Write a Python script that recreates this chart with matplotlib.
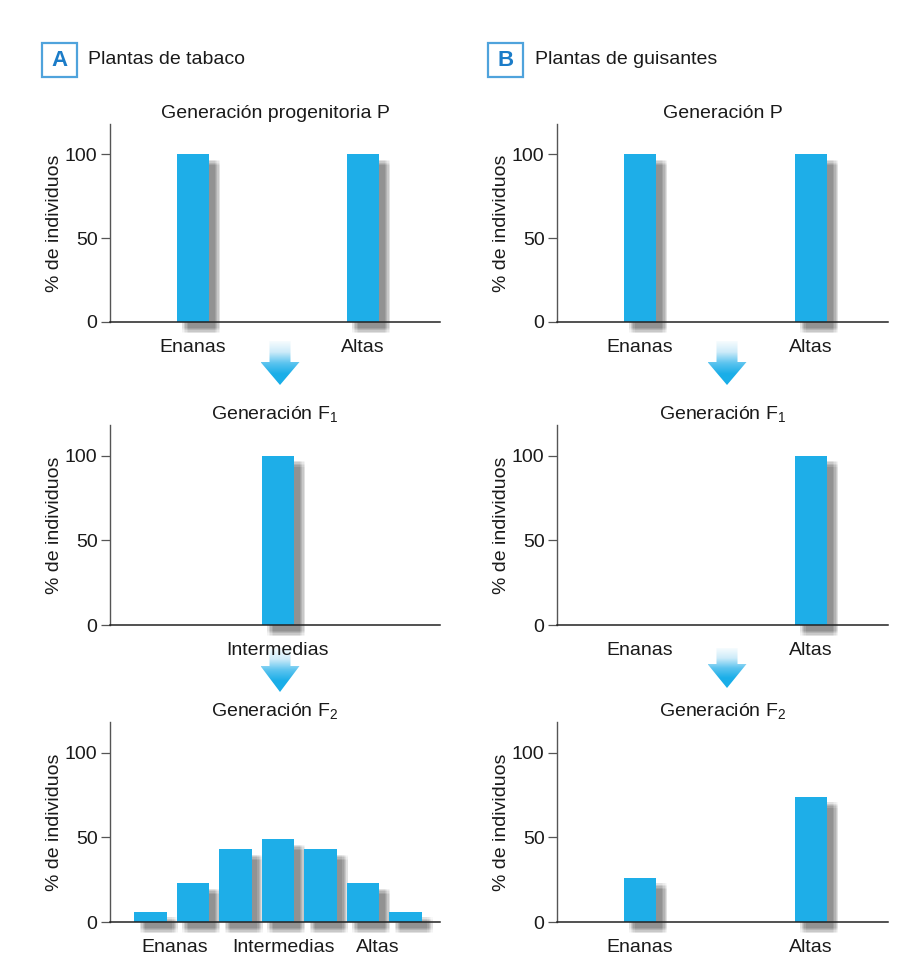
import numpy as np
import matplotlib
matplotlib.use("Agg")
import matplotlib.pyplot as plt
import matplotlib.patheffects as pe
from matplotlib.patches import Rectangle, Polygon
from matplotlib.colors import LinearSegmentedColormap

plt.rcParams['font.family'] = ['Liberation Sans', 'DejaVu Sans']
plt.rcParams['mathtext.fontset'] = 'custom'
plt.rcParams['mathtext.rm'] = 'Liberation Sans'
plt.rcParams['mathtext.it'] = 'Liberation Sans'

# ---------------- data ----------------
panel_letters = ["A", "B"]
panel_titles = ["Plantas de tabaco", "Plantas de guisantes"]
gen_titles_A = ["Generación progenitoria P", "Generación F$_{1}$", "Generación F$_{2}$"]
gen_titles_B = ["Generación P", "Generación F$_{1}$", "Generación F$_{2}$"]

# positions in category units (Enanas = 0, Altas = 1)
A_P_pos = [0, 1]
A_P_val = [100, 100]
A_P_ticks = [0, 1]
A_P_labels = ["Enanas", "Altas"]

A_F1_pos = [0.5]
A_F1_val = [100]
A_F1_ticks = [0.5]
A_F1_labels = ["Intermedias"]

A_F2_pos = [-0.25, 0, 0.25, 0.5, 0.75, 1.0, 1.25]
A_F2_val = [6, 23, 43, 49, 43, 23, 6]
A_F2_ticks = [-0.11, 0.535, 1.088]
A_F2_labels = ["Enanas", "Intermedias", "Altas"]

B_P_pos = [0, 1]
B_P_val = [100, 100]
B_F1_pos = [0, 1]
B_F1_val = [0, 100]
B_F2_pos = [0, 1]
B_F2_val = [26, 74]
B_ticks = [0, 1]
B_labels = ["Enanas", "Altas"]

yticks = [0, 50, 100]
ylabel = "% de individuos"

BAR = "#1EAEE8"
FS = 14
W, H = 906, 963
fig = plt.figure(figsize=(W / 100, H / 100), dpi=100)


def fx(px):
    return px / W


def fy(py):
    return 1 - py / H


# soft shadow: box blur via shifted copies
shadow_effects = []
for dx in (-2, -1, 0, 1, 2):
    for dy in (-2, -1, 0, 1, 2):
        shadow_effects.append(pe.SimplePatchShadow(offset=(6 + dx, -6 + dy),
                                                   shadow_rgbFace="#555555", alpha=0.034))
shadow_effects.append(pe.Normal())


def make_ax(left_px, top_px, bottom_px, right_px, title, pos, vals, ticks, labels, xlim):
    ax = fig.add_axes([fx(left_px), fy(bottom_px), fx(right_px - left_px), (bottom_px - top_px) / H])
    bars = ax.bar(pos, vals, width=0.19, color=BAR, zorder=1, clip_on=False)
    for b in bars:
        if b.get_height() > 0:
            b.set_path_effects(shadow_effects)
    ax.set_xlim(*xlim)
    ax.set_ylim(0, 118)
    ax.set_yticks(yticks)
    ax.set_xticks(ticks)
    ax.set_xticklabels(labels)
    for s in ("top", "right"):
        ax.spines[s].set_visible(False)
    ax.spines["left"].set_color("#555555")
    ax.spines["left"].set_linewidth(1.0)
    ax.spines["bottom"].set_color("#222222")
    ax.spines["bottom"].set_linewidth(1.1)
    ax.tick_params(axis="y", length=6.5, width=0.9, color="#555555", pad=2.5, labelsize=FS, labelcolor="#1a1a1a")
    ax.tick_params(axis="x", length=0, pad=12, labelsize=FS, labelcolor="#1a1a1a")
    ax.set_ylabel(ylabel, fontsize=FS, color="#1a1a1a")
    ax.yaxis.set_label_coords(-0.142, 0.5)
    ax.set_title(title, fontsize=FS, color="#1a1a1a", pad=4)
    ax.set_facecolor("none")
    return ax


xlimA = (-0.488, 1.453)
xlimB = (-0.485, 1.45)
rows = [(124, 322), (425, 625), (722, 922)]

make_ax(110, rows[0][0], rows[0][1], 440, gen_titles_A[0], A_P_pos, A_P_val, A_P_ticks, A_P_labels, xlimA)
make_ax(110, rows[1][0], rows[1][1], 440, gen_titles_A[1], A_F1_pos, A_F1_val, A_F1_ticks, A_F1_labels, xlimA)
make_ax(110, rows[2][0], rows[2][1], 440, gen_titles_A[2], A_F2_pos, A_F2_val, A_F2_ticks, A_F2_labels, xlimA)
make_ax(557, rows[0][0], rows[0][1], 888, gen_titles_B[0], B_P_pos, B_P_val, B_ticks, B_labels, xlimB)
make_ax(557, rows[1][0], rows[1][1], 888, gen_titles_B[1], B_F1_pos, B_F1_val, B_ticks, B_labels, xlimB)
make_ax(557, rows[2][0], rows[2][1], 888, gen_titles_B[2], B_F2_pos, B_F2_val, B_ticks, B_labels, xlimB)

# ---------------- overlay: headers and arrows ----------------
ov = fig.add_axes([0, 0, 1, 1], zorder=-1)
ov.set_xlim(0, W)
ov.set_ylim(H, 0)
ov.axis("off")

for (bx, tx), letter, txt in zip([(42, 88), (488, 535)], panel_letters, panel_titles):
    ov.add_patch(Rectangle((bx, 43), 35, 34, fill=False, edgecolor="#4fa3dc", linewidth=1.6))
    ov.text(bx + 17.5, 61, letter, ha="center", va="center", fontsize=16, fontweight="bold",
            color="#1b7cc8")
    ov.text(tx, 60, txt, ha="left", va="center", fontsize=14, color="#1a1a1a")

grad = np.linspace(0, 1, 256).reshape(-1, 1)
cmap = LinearSegmentedColormap.from_list("arr", ["#f7fcfe", "#cdebf9", "#5cc4ef", "#1aaee8", "#1aaee8"])


def arrow(cx, top, head_top, tip):
    sw, hw = 10.5, 19.5
    pts = [(cx - sw, top), (cx + sw, top), (cx + sw, head_top), (cx + hw, head_top),
           (cx, tip), (cx - hw, head_top), (cx - sw, head_top)]
    poly = Polygon(pts, closed=True, facecolor="none", edgecolor="none")
    ov.add_patch(poly)
    im = ov.imshow(grad, extent=(cx - hw, cx + hw, tip, top), cmap=cmap, aspect="auto", zorder=2)
    im.set_clip_path(poly)


arrow(280, 341, 362, 385)
arrow(727, 341, 362, 385)
arrow(280, 648, 666, 692)
arrow(727, 648, 664, 688)
ov.set_xlim(0, W)
ov.set_ylim(H, 0)

fig.savefig("out.png", dpi=100, facecolor="white")
